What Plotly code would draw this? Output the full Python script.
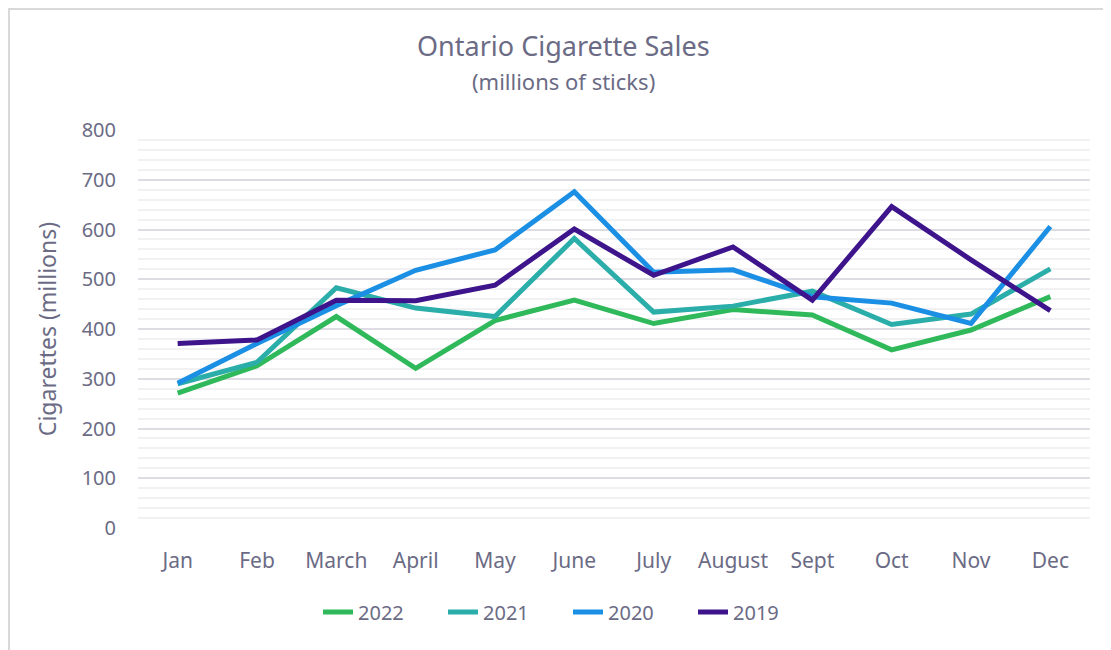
import plotly.graph_objects as go

months = ["Jan", "Feb", "March", "April", "May", "June", "July", "August", "Sept", "Oct", "Nov", "Dec"]
sales_2022 = [271, 326, 425, 321, 417, 458, 411, 439, 428, 358, 398, 465]
sales_2021 = [290, 333, 483, 442, 425, 582, 434, 446, 476, 409, 430, 521]
sales_2020 = [291, 371, 447, 518, 559, 676, 514, 519, 465, 452, 411, 606]
sales_2019 = [371, 378, 458, 457, 488, 601, 508, 565, 458, 646, 539, 437]

series = [
    ("2022", sales_2022, "#2FB95A"),
    ("2021", sales_2021, "#2BAEA9"),
    ("2020", sales_2020, "#1B8FE4"),
    ("2019", sales_2019, "#3D148B"),
]

text_color = "#6B6B85"
font_family = "Noto Sans, Open Sans, sans-serif"

# page has an 8px body margin; figure is sized/offset accordingly
W, H = 1103, 642
L, T = 130, 122
PW, PH = 952, 398

fig = go.Figure()
for name, vals, color in series:
    fig.add_trace(go.Scatter(
        x=months, y=vals, name=name, mode="lines",
        line=dict(color=color, width=5, shape="linear"),
    ))

fig.update_layout(
    width=W, height=H,
    margin=dict(l=L, r=W - L - PW, t=T, b=H - T - PH, autoexpand=False),
    paper_bgcolor="white", plot_bgcolor="white",
    font=dict(family=font_family, color=text_color, size=20),
    showlegend=True,
    legend=dict(
        orientation="h", x=(560 - L) / PW, xanchor="center",
        y=-(604 - (T + PH)) / PH, yanchor="middle",
        font=dict(size=20, color=text_color), traceorder="normal",
        entrywidth=80, entrywidthmode="pixels",
    ),
)
fig.add_annotation(text="Ontario Cigarette Sales", xref="paper", yref="paper",
                   x=(555 - L) / PW, y=1 + (T - 37) / PH, showarrow=False,
                   font=dict(size=27, color=text_color), xanchor="center", yanchor="middle")
fig.add_annotation(text="(millions of sticks)", xref="paper", yref="paper",
                   x=(555 - L) / PW, y=1 + (T - 73) / PH, showarrow=False,
                   font=dict(size=22, color=text_color), xanchor="center", yanchor="middle")

fig.update_xaxes(
    type="category", range=[-0.5, 11.5], showgrid=False, zeroline=False, showline=False,
    ticks="", tickfont=dict(size=21, color=text_color), ticklabelstandoff=18,
)
fig.update_yaxes(
    range=[0, 800], dtick=100, showgrid=True, gridcolor="#DCDCE2", gridwidth=1.5,
    zeroline=False, showline=False, ticks="",
    tickfont=dict(size=20, color=text_color), ticklabelstandoff=21,
    minor=dict(dtick=20, showgrid=True, gridcolor="#F1F1F4", gridwidth=1.5),
    title=dict(text="Cigarettes (millions)", font=dict(size=23, color=text_color), standoff=18),
)

fig.add_shape(type="rect", xref="paper", yref="paper",
              x0=(1 - L) / PW, x1=(W + 20 - L) / PW,
              y0=-(H + 20 - T - PH) / PH, y1=1 + (T - 1) / PH,
              line=dict(color="#D9D9D9", width=2), fillcolor="rgba(0,0,0,0)", layer="below")

fig.write_html("out.html")
